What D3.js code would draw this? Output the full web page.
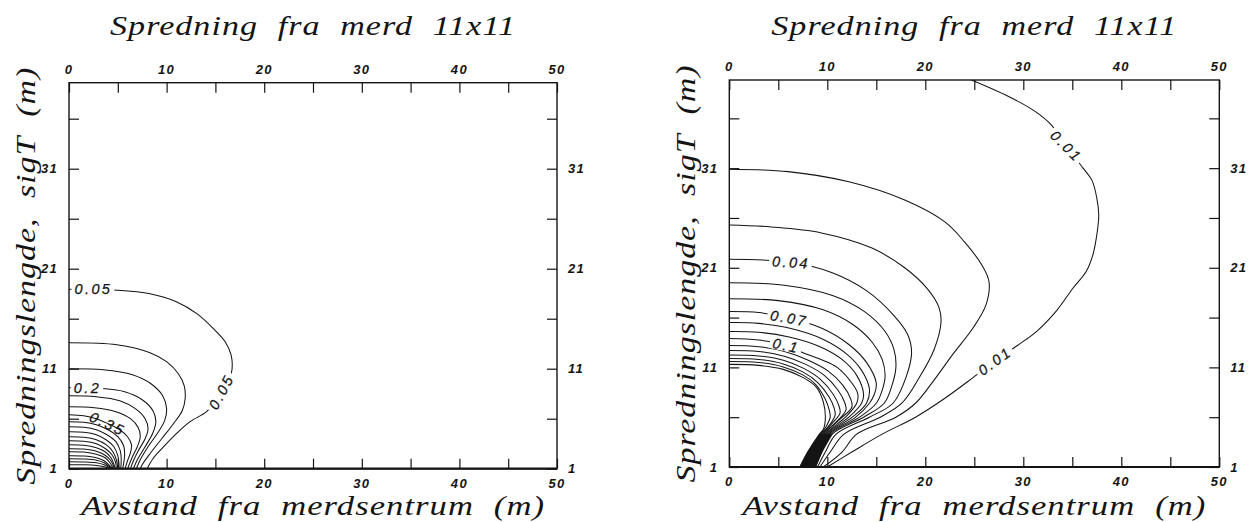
<!DOCTYPE html>
<html><head><meta charset="utf-8">
<script src="https://cdn.jsdelivr.net/npm/d3@7"></script>
<style>body{margin:0;background:#fff}</style></head>
<body><svg id="c" width="1250" height="522"></svg>
<script>
// ---------- DATA ----------
const titleText = "Spredning fra merd 11x11";
const xLabelText = "Avstand fra merdsentrum (m)";
const yLabelText = "Spredningslengde, sigT (m)";
const xTicks = [0,5,10,15,20,25,30,35,40,45,50];
const xTickLabels = [0,10,20,30,40,50];
const yTicks = [1,6,11,16,21,26,31,36];
const yTickLabels = [1,11,21,31];

// Left panel: contour levels 0.05 .. 0.95, points [x (m), sigT]
const leftLevels = [0.05,0.10,0.15,0.20,0.25,0.30,0.35,0.40,0.45,0.50,0.55,0.60,0.65,0.70,0.75,0.80,0.85,0.90,0.95];
const leftLines = [
 [[0,18.95],[4.9,18.85],[8.3,18.5],[11,17.7],[13.1,16.5],[14.8,15.0],[16.0,13.7],[16.6,12.4],[16.7,10.9],[16.3,9.6],[15.6,8.7],[14.8,7.6],[14.1,6.7],[12.4,5.7],[11.0,4.5],[9.7,3.2],[8.6,2.0],[8.0,1]],
 [[0,13.6],[4.9,13.4],[8.3,12.6],[10.0,11.7],[11.2,10.5],[11.8,9.3],[11.9,8.0],[11.6,6.8],[10.7,5.5],[9.5,4.0],[8.3,2.5],[7.5,1.4],[7.3,1]],
 [[0,11.0],[3.5,10.9],[6.5,10.4],[8.4,9.5],[9.6,8.3],[10.0,7.0],[9.8,5.8],[9.1,4.6],[8.1,3.2],[7.3,1.9],[6.9,1]],
 [[0,9.1],[3,9.05],[5.7,8.7],[7.5,7.9],[8.6,6.8],[8.9,5.7],[8.6,4.6],[7.8,3.2],[7.0,1.9],[6.6,1]],
 [[0,8.3],[2.8,8.2],[5.2,7.8],[6.8,7.0],[7.8,6.0],[8.1,5.0],[7.8,4.0],[7.1,2.8],[6.6,1.8],[6.3,1]],
 [[0,7.2],[2.6,7.1],[4.8,6.7],[6.3,6.0],[7.1,5.1],[7.3,4.2],[7.0,3.2],[6.5,2.2],[6.0,1]],
 [[0,6.4],[1.5,6.3],[2.8,6.0],[4.0,5.5],[5.2,4.9],[6.0,4.2],[6.4,3.4],[6.3,2.6],[6.0,1.8],[5.75,1]],
 [[0,5.7],[1.5,5.65],[2.8,5.4],[4.0,4.9],[5.0,4.2],[5.6,3.3],[5.7,2.4],[5.5,1]],
 [[0,5.2],[1.5,5.15],[2.8,4.9],[3.9,4.4],[4.8,3.7],[5.25,2.8],[5.35,2.0],[5.3,1]],
 [[0,4.7],[1.5,4.65],[2.8,4.4],[3.8,3.9],[4.6,3.2],[5.0,2.3],[5.15,1]],
 [[0,4.2],[1.5,4.15],[2.8,3.9],[3.8,3.4],[4.5,2.7],[4.85,1.9],[5.0,1]],
 [[0,3.8],[1.5,3.75],[2.8,3.5],[3.75,3.0],[4.4,2.4],[4.75,1.7],[4.85,1]],
 [[0,3.4],[1.5,3.35],[2.8,3.1],[3.7,2.7],[4.3,2.1],[4.75,1]],
 [[0,3.0],[1.5,2.96],[2.8,2.75],[3.7,2.35],[4.3,1.8],[4.65,1]],
 [[0,2.7],[1.5,2.66],[2.8,2.45],[3.7,2.1],[4.2,1.6],[4.55,1]],
 [[0,2.3],[1.5,2.27],[2.8,2.1],[3.6,1.8],[4.45,1]],
 [[0,2.0],[1.5,1.97],[2.8,1.85],[3.6,1.6],[4.4,1]],
 [[0,1.7],[1.5,1.68],[2.8,1.6],[3.6,1.4],[4.3,1]],
 [[0,1.4],[1.5,1.39],[2.8,1.33],[3.6,1.2],[4.25,1]]
];
const leftLabels = [
 {t:"0.05", x:2.5, y:18.95, a:0, bg:true},
 {t:"0.05", x:15.6, y:8.7, a:-62, bg:true},
 {t:"0.2", x:1.9, y:9.1, a:0, bg:true},
 {t:"0.35", x:3.95, y:5.5, a:25, bg:false}
];

// Right panel: contour levels 0.01 .. 0.16
const rightLevels = [0.01,0.02,0.03,0.04,0.05,0.06,0.07,0.08,0.09,0.10,0.11,0.12,0.13,0.14,0.15,0.16];
const rightLines = [
 [[24.7,39.85],[28.5,38.2],[31.2,36.7],[32.9,35.3],[34.4,33.2],[36.1,31.0],[37.0,29.8],[37.5,28.0],[37.7,26.3],[37.5,24.3],[37.1,22.3],[36.4,20.6],[35.1,19.0],[33.4,16.7],[31.4,14.65],[29.4,13.2],[27.1,11.65],[24.9,10.0],[22.0,7.9],[19.0,6.0],[15.6,4.3],[12.5,2.5],[10.0,1]],
 [[0,30.9],[6,30.65],[12.1,29.65],[17.9,27.8],[22,25.6],[24,23.6],[25.75,21.3],[26.5,19.6],[26.2,17.3],[24.9,15.0],[22.8,12.3],[20.8,9.6],[19.0,7.4],[17.0,6.0],[13.0,4.3],[11.5,2.5],[9.6,1]],
 [[0,25.3],[4.3,25.1],[9.4,24.5],[14.5,23.0],[17.9,21.0],[20.2,18.9],[21.4,17.0],[21.6,15.5],[20.9,12.8],[19.4,10.0],[17.6,7.4],[15.4,6.0],[11.7,4.3],[10.3,2.5],[9.25,1]],
 [[0,21.85],[6.3,21.55],[10.5,20.5],[14.0,18.7],[16.8,16.2],[18.2,14.3],[18.6,12.5],[18.1,10.2],[16.7,7.4],[14.3,6.0],[10.9,4.3],[9.8,2.5],[9.0,1]],
 [[0,19.5],[5.6,19.25],[10.6,18.2],[13.8,16.6],[15.9,14.6],[16.8,12.8],[17.0,11.0],[16.6,9.2],[15.8,7.4],[13.7,6.0],[10.5,4.3],[9.45,2.5],[8.8,1]],
 [[0,17.9],[5,17.7],[9.5,16.8],[12.6,15.3],[14.6,13.5],[15.6,11.8],[15.9,10.1],[15.6,8.7],[15.0,7.4],[13.3,6.0],[10.3,4.3],[9.3,2.5],[8.65,1]],
 [[0,16.6],[3,16.5],[6.1,15.95],[9.5,14.9],[12.2,13.3],[14.0,11.5],[15.0,9.4],[14.8,8.3],[14.3,7.4],[12.9,6.0],[10.15,4.3],[9.15,2.5],[8.5,1]],
 [[0,15.5],[3,15.42],[6.3,14.9],[9.5,13.85],[11.9,12.4],[13.5,10.7],[14.3,8.8],[14.0,7.4],[12.55,6.0],[10.0,4.3],[9.0,2.5],[8.35,1]],
 [[0,14.6],[3,14.52],[6.1,14.05],[9.2,13.1],[11.5,11.8],[13.0,10.2],[13.7,8.3],[13.5,7.4],[12.2,6.0],[9.9,4.3],[8.85,2.5],[8.2,1]],
 [[0,13.9],[3,13.75],[5.8,13.2],[7.7,12.4],[9.6,11.7],[11.0,11.0],[12.3,9.7],[13.1,8.4],[13.0,7.4],[11.85,6.0],[9.8,4.3],[8.7,2.5],[8.05,1]],
 [[0,13.2],[3,13.08],[5.8,12.55],[8.0,11.75],[10.0,10.7],[11.6,9.2],[12.4,7.8],[12.5,7.0],[11.3,5.8],[9.7,4.3],[8.55,2.5],[7.9,1]],
 [[0,12.7],[3,12.6],[5.7,12.1],[7.8,11.3],[9.7,10.2],[11.1,8.7],[11.8,7.4],[11.9,6.7],[11.0,5.6],[9.6,4.3],[8.4,2.5],[7.75,1]],
 [[0,12.25],[3,12.15],[5.6,11.7],[7.6,10.9],[9.3,9.8],[10.6,8.3],[11.2,7.1],[11.3,6.4],[10.6,5.5],[9.5,4.3],[8.3,2.5],[7.6,1]],
 [[0,11.9],[3,11.8],[5.5,11.35],[7.5,10.55],[9.0,9.5],[10.2,8.0],[10.7,6.9],[10.8,6.2],[10.3,5.3],[9.4,4.3],[8.2,2.5],[7.45,1]],
 [[0,11.6],[3,11.5],[5.5,11.05],[7.5,10.25],[8.8,9.3],[9.8,7.8],[10.2,6.7],[10.3,6.0],[9.9,5.1],[9.3,4.3],[8.1,2.5],[7.3,1]],
 [[0,11.3],[3,11.2],[5.5,10.8],[7.5,10.0],[8.9,9.0],[9.6,7.5],[9.8,5.9],[9.6,4.8],[9.2,4.3],[8.0,2.5],[7.2,1]]
];
const rightLabels = [
 {t:"0.01", x:34.4, y:33.2, a:45, bg:true},
 {t:"0.01", x:27.1, y:11.65, a:-36, bg:true},
 {t:"0.04", x:6.3, y:21.55, a:4, bg:true},
 {t:"0.07", x:6.1, y:15.95, a:10, bg:true},
 {t:"0.1", x:5.8, y:13.2, a:12, bg:true}
];
// dense band where the right-panel contours pile up near the bottom: between these two levels, below this sigT
const bandLevels = [0.16, 0.05];
const bandTop = 4.3;

// ---------- DRAW ----------
const svg = d3.select("#c");
svg.append("rect").attr("width",1250).attr("height",522).attr("fill","#fff");

const panels = [
 {id:"L", px0:69, px1:557, pyTop:82.7, pyBot:468.7, yMax:39.6, lines:leftLines, levels:leftLevels, labels:leftLabels, ylabX:35, band:false},
 {id:"R", px0:729.3, px1:1219.3, pyTop:80, pyBot:467, yMax:39.85, lines:rightLines, levels:rightLevels, labels:rightLabels, ylabX:695, band:true}
];

const serif = "'Liberation Serif','Times New Roman',serif";
const sans = "'Liberation Sans',Arial,sans-serif";
const ink = "#141414";

panels.forEach(p => {
  const x = d3.scaleLinear().domain([0,50]).range([p.px0,p.px1]);
  const y = d3.scaleLinear().domain([1,p.yMax]).range([p.pyBot,p.pyTop]);
  const g = svg.append("g");
  const cx = (p.px0+p.px1)/2, cy = (p.pyTop+p.pyBot)/2;

  g.append("clipPath").attr("id","clip"+p.id).append("rect")
    .attr("x",x(0)).attr("y",y(p.yMax)).attr("width",x(50)-x(0)).attr("height",y(1)-y(p.yMax));
  const cg = g.append("g").attr("clip-path","url(#clip"+p.id+")");

  // contours
  const line = d3.line().x(d=>x(d[0])).y(d=>y(d[1])).curve(d3.curveCatmullRom.alpha(0.5));
  cg.selectAll("path.c").data(p.lines).join("path").attr("class","c")
   .attr("d",line).attr("fill","none").attr("stroke",ink).attr("stroke-width",1.05);

  if (p.band) {
    const inner = p.lines[p.levels.indexOf(bandLevels[0])].filter(d=>d[1]<=bandTop);
    const outer = p.lines[p.levels.indexOf(bandLevels[1])].filter(d=>d[1]<=bandTop);
    const poly = inner.concat(outer.slice().reverse());
    cg.append("path").attr("d", d3.line().x(d=>x(d[0])).y(d=>y(d[1])).curve(d3.curveLinearClosed)(poly))
      .attr("fill",ink).attr("stroke",ink).attr("stroke-width",0.8);
  }

  // frame
  g.append("rect").attr("x",x(0)).attr("y",y(p.yMax)).attr("width",x(50)-x(0)).attr("height",y(1)-y(p.yMax))
   .attr("fill","none").attr("stroke",ink).attr("stroke-width",1.4);
  g.append("line").attr("x1",x(0)).attr("x2",x(50)).attr("y1",y(1)).attr("y2",y(1))
   .attr("stroke",ink).attr("stroke-width",2.2);

  // axes with inward ticks (labels drawn separately)
  const tickLen = 10;
  const axTop = d3.axisBottom(x).tickValues(xTicks).tickSize(tickLen).tickFormat("");
  const axBot = d3.axisTop(x).tickValues(xTicks).tickSize(tickLen).tickFormat("");
  const axLeft = d3.axisRight(y).tickValues(yTicks).tickSize(tickLen).tickFormat("");
  const axRight = d3.axisLeft(y).tickValues(yTicks).tickSize(tickLen).tickFormat("");
  [[axTop,`translate(0,${y(p.yMax)})`],[axBot,`translate(0,${y(1)})`],
   [axLeft,`translate(${x(0)},0)`],[axRight,`translate(${x(50)},0)`]].forEach(([ax,tr])=>{
    const a = g.append("g").attr("transform",tr).call(ax);
    a.select(".domain").remove();
    a.selectAll("line").attr("stroke",ink).attr("stroke-width",1.2);
  });

  // tick labels
  const tl = {"font-family":sans,"font-style":"italic","font-weight":"bold","font-size":"13px","letter-spacing":"1.3px","fill":ink};
  const applyAttrs = (sel,o)=>{for(const k in o) sel.attr(k,o[k]); return sel;};
  xTickLabels.forEach(v=>{
    applyAttrs(g.append("text"),tl).attr("x",x(v)).attr("y",y(p.yMax)-9).attr("text-anchor","middle").text(v);
    applyAttrs(g.append("text"),tl).attr("x",x(v)).attr("y",y(1)+19).attr("text-anchor","middle").text(v);
  });
  yTickLabels.forEach(v=>{
    applyAttrs(g.append("text"),tl).attr("x",x(0)-11).attr("y",y(v)+4.5).attr("text-anchor","end").text(v);
    applyAttrs(g.append("text"),tl).attr("x",x(50)+11).attr("y",y(v)+4.5).attr("text-anchor","start").text(v);
  });

  // contour labels
  p.labels.forEach(L=>{
    const lg = g.append("g").attr("transform",`translate(${x(L.x)},${y(L.y)}) rotate(${L.a})`);
    const bg = lg.append("rect").attr("fill","#fff");
    const t = lg.append("text").attr("x",0).attr("y",5.2)
      .attr("text-anchor","middle").attr("font-family",sans).attr("font-style","italic")
      .attr("font-size","14.5px").attr("letter-spacing","2.4px").attr("fill",ink)
      .attr("stroke",ink).attr("stroke-width",0.25).text(L.t);
    if (L.bg) {
      const b = t.node().getBBox();
      bg.attr("x",b.x-3).attr("y",-6).attr("width",b.width+5).attr("height",12);
    } else bg.remove();
  });

  // title, axis labels
  const big = sel => sel.attr("font-family",serif).attr("font-style","italic").attr("font-size","27px")
     .attr("fill",ink).attr("letter-spacing","0.8px").attr("word-spacing","8px").attr("lengthAdjust","spacingAndGlyphs");
  big(g.append("text").attr("x",cx).attr("y",35).attr("text-anchor","middle"))
   .attr("textLength",406).text(titleText);
  big(g.append("text").attr("x",cx).attr("y",515).attr("text-anchor","middle"))
   .attr("textLength",464).text(xLabelText);
  big(g.append("text").attr("transform",`translate(${p.ylabX},${cy}) rotate(-90)`).attr("text-anchor","middle"))
   .attr("textLength",418).text(yLabelText);
});
</script>
</body></html>
